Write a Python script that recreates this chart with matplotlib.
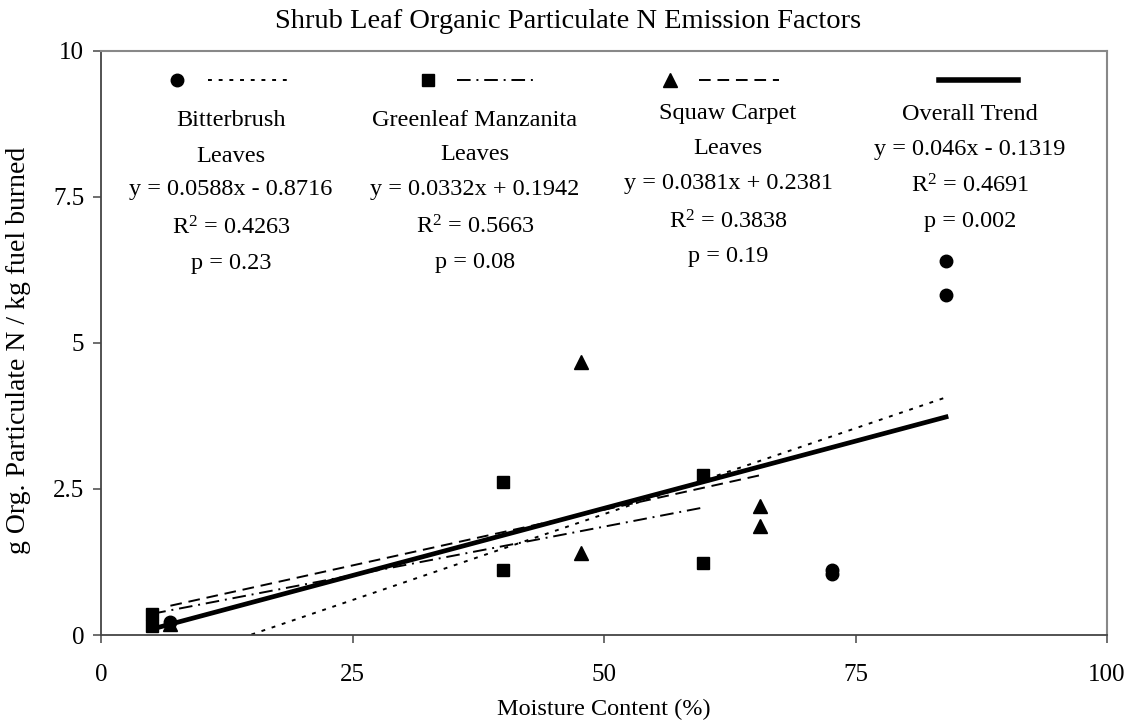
import numpy as np
import matplotlib.pyplot as plt
from matplotlib.lines import Line2D

plt.rcParams['font.family'] = ['Liberation Serif', 'DejaVu Serif']
plt.rcParams['mathtext.fontset'] = 'custom'
plt.rcParams['mathtext.rm'] = 'Liberation Serif'
plt.rcParams['mathtext.it'] = 'Liberation Serif:italic'

# ---- data: moisture content (%) vs g org. particulate N / kg fuel ----
bitter_x = [6.9, 72.7, 72.7, 84.0, 84.0]
bitter_y = [0.23, 1.05, 1.11, 5.82, 6.40]

manz_x = [5.1, 5.1, 40.0, 40.0, 59.8, 59.8]
manz_y = [0.16, 0.36, 1.11, 2.61, 1.24, 2.74]

squaw_x = [6.9, 47.7, 47.7, 65.5, 65.5]
squaw_y = [0.18, 1.40, 4.68, 1.87, 2.21]

# linear fits (slope, intercept) and stats
fit_names = ['Bitterbrush\nLeaves', 'Greenleaf Manzanita\nLeaves', 'Squaw Carpet\nLeaves', 'Overall Trend']
fit_slope = [0.0588, 0.0332, 0.0381, 0.046]
fit_icept = [-0.8716, 0.1942, 0.2381, -0.1319]
fit_r2 = ['0.4263', '0.5663', '0.3838', '0.4691']
fit_p = ['0.23', '0.08', '0.19', '0.002']

x_ticks = [0, 25, 50, 75, 100]
y_ticks = [0, 2.5, 5, 7.5, 10]

W, H = 1130, 728
fig = plt.figure(figsize=(W / 100, H / 100), dpi=100)
ax = fig.add_axes([101 / W, 1 - 635 / H, (1107 - 101) / W, (635 - 50.7) / H])

FS = 17.5
dotted = (0, (2, 3.5))
dashdot = (0, (7, 3, 1, 3))
dashed = (0, (6, 3.5))
styles = [dotted, dashdot, dashed, '-']
widths = [1.4, 1.4, 1.4, 3.4]
markers = ['o', 's', '^']
msizes = [9, 9, 10]

series = [(bitter_x, bitter_y), (manz_x, manz_y), (squaw_x, squaw_y)]
all_x = bitter_x + manz_x + squaw_x

# trend lines over each series' x range
for i, (xs, ys) in enumerate(series + [(all_x, None)]):
    xx = np.linspace(min(xs), max(xs), 200)
    yy = fit_slope[i] * xx + fit_icept[i]
    ax.plot(xx, yy, color='black', lw=widths[i], linestyle=styles[i], zorder=2)

for i, (xs, ys) in enumerate(series):
    ax.plot(xs, ys, linestyle='none', marker=markers[i], ms=msizes[i],
            color='black', zorder=3)

ax.set_xlim(0, 100)
ax.set_ylim(0, 10)
ax.set_xticks(x_ticks)
ax.set_xticklabels([str(v) for v in x_ticks])
ax.set_yticks(y_ticks)
ax.set_yticklabels(['0', '2.5', '5', '7.5', '10'])
ax.tick_params(axis='x', direction='out', length=6, width=1.2, color='#555555',
               pad=15, labelsize=18)
ax.tick_params(axis='y', direction='out', length=6, width=1.2, color='#555555',
               pad=6, labelsize=18)
for s in ['left', 'bottom']:
    ax.spines[s].set_color('#444444')
    ax.spines[s].set_linewidth(1.3)
for s in ['top', 'right']:
    ax.spines[s].set_color('#888888')
    ax.spines[s].set_linewidth(1.5)

ax.set_xlabel('Moisture Content (%)', fontsize=FS, labelpad=9)


def fx(px):
    return px / W


def fy(py):
    return 1 - py / H


fig.text(fx(19), fy(350), 'g Org. Particulate N / kg fuel burned', rotation=90,
         ha='center', va='center', fontsize=20)
fig.text(fx(568), fy(22), 'Shrub Leaf Organic Particulate N Emission Factors',
         ha='center', va='center', fontsize=20.5)

# legend swatches: marker + line sample
swatch_y = 80
marker_px = [176.5, 428, 669.5]
line_px = [(208, 288), (457, 534), (699, 779), (939, 1018)]
for i in range(4):
    x0, x1 = line_px[i]
    fig.add_artist(Line2D([fx(x0), fx(x1)], [fy(swatch_y)] * 2, color='black',
                          lw=widths[i] + (0.6 if i == 3 else 0), linestyle=styles[i]))
    if i < 3:
        fig.add_artist(Line2D([fx(marker_px[i])], [fy(swatch_y)], marker=markers[i],
                              ms=msizes[i], color='black', linestyle='none'))

# legend text columns
col_x = [231, 475, 728, 970]
col_rows = [[121, 156, 190, 228, 263],
            [120, 155, 190, 227, 262],
            [114, 149, 184, 222, 256],
            [114, 149, 186, 221]]
for i in range(4):
    sign = '-' if fit_icept[i] < 0 else '+'
    eq = f'y = {fit_slope[i]:g}x {sign} {abs(fit_icept[i]):g}'
    lines = fit_names[i].split('\n') + [eq, f'R$^2$ = {fit_r2[i]}', f'p = {fit_p[i]}']
    for line, ry in zip(lines, col_rows[i]):
        fig.text(fx(col_x[i]), fy(ry), line, ha='center', va='center', fontsize=FS)

fig.savefig('out.png', dpi=100)
